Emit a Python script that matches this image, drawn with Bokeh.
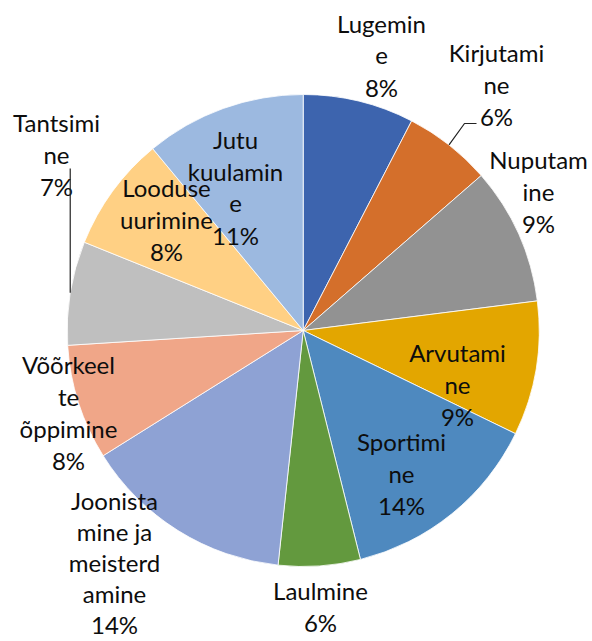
import math
from bokeh.plotting import figure
from bokeh.models import Range1d
from bokeh.core.properties import value
from bokeh.embed import file_html
from bokeh.resources import INLINE

# ---- data ----
categories = ["Lugemine", "Kirjutamine", "Nuputamine", "Arvutamine", "Sportimine",
              "Laulmine", "Joonistamine ja meisterdamine", "Võõrkeelte õppimine",
              "Tantsimine", "Looduse uurimine", "Jutu kuulamine"]
shares = [7.6, 6.0, 9.4, 9.2, 13.9, 5.6, 14.4, 7.9, 7.1, 7.9, 11.0]
label_lines = [["Lugemin", "e"], ["Kirjutami", "ne"], ["Nuputam", "ine"], ["Arvutami", "ne"],
               ["Sportimi", "ne"], ["Laulmine"], ["Joonista", "mine ja", "meisterd", "amine"],
               ["Võõrkeel", "te", "õppimine"], ["Tantsimi", "ne"], ["Looduse", "uurimine"],
               ["Jutu", "kuulamin", "e"]]
colors = ["#3D64AE", "#D46F2B", "#929292", "#E3A600", "#4E89BF", "#63993E",
          "#8EA2D4", "#F0A688", "#BFBFBF", "#FFD084", "#9CB9E0"]

# ---- layout (picture pixel coordinates) ----
W, H = 592, 641
cx_page, cy_page, R = 302.7, 330.0, 236
# first line centre of each label
label_pos = [(381, 23), (496, 52), (538, 159), (457, 352), (401, 441), (320, 590),
             (114, 500), (68, 364), (56, 122), (166, 187), (235, 139)]
line_step = [32, 32, 32, 32, 32, 32, 31, 32, 32, 32, 32]
leader_for = {1: "kink", 8: "vertical"}

def Y(py):
    return H - py

p = figure(width=W, height=H, output_backend="svg", toolbar_location=None,
           x_range=Range1d(0, W), y_range=Range1d(0, H),
           x_axis_type=None, y_axis_type=None, min_border=0)
p.grid.visible = False
p.outline_line_color = None
p.background_fill_color = "white"
p.border_fill_color = "white"

total = sum(shares)
cum = 0.0
starts, ends, mids = [], [], []
for s in shares:
    a0 = cum / total
    cum += s
    a1 = cum / total
    starts.append(math.pi / 2 - a1 * 2 * math.pi)
    ends.append(math.pi / 2 - a0 * 2 * math.pi)
    mids.append((a0 + a1) / 2)

p.wedge(x=[cx_page] * len(shares), y=[Y(cy_page)] * len(shares), radius=R,
        radius_units="screen", start_angle=starts, end_angle=ends,
        fill_color=colors, line_color="white", line_width=0.8)

font = value("Lato")
for i, lines in enumerate(label_lines):
    pct = f"{round(shares[i] / total * 100)}%"
    all_lines = lines + [pct]
    lx, ly = label_pos[i]
    step = line_step[i]
    xs = [lx] * len(all_lines)
    ys = [Y(ly + k * step) for k in range(len(all_lines))]
    p.text(x=xs, y=ys, text=all_lines, text_font=font, text_font_size="24px",
           text_align="center", text_baseline="middle", text_color="#0d0d0d")

    if i in leader_for:
        ang = mids[i] * 2 * math.pi
        ex = cx_page + R * math.sin(ang)
        ey = cy_page - R * math.cos(ang)
        last_y = ly + (len(all_lines) - 1) * step
        if leader_for[i] == "kink":
            kx = lx - 32
            p.line(x=[ex, kx, kx + 12], y=[Y(ey), Y(last_y + 7), Y(last_y + 7)],
                   line_color="#222222", line_width=1.2)
        else:
            p.line(x=[ex, ex], y=[Y(ey), Y(last_y - 18)],
                   line_color="#222222", line_width=1.2)

open("out.html", "w").write(file_html(p, INLINE))
